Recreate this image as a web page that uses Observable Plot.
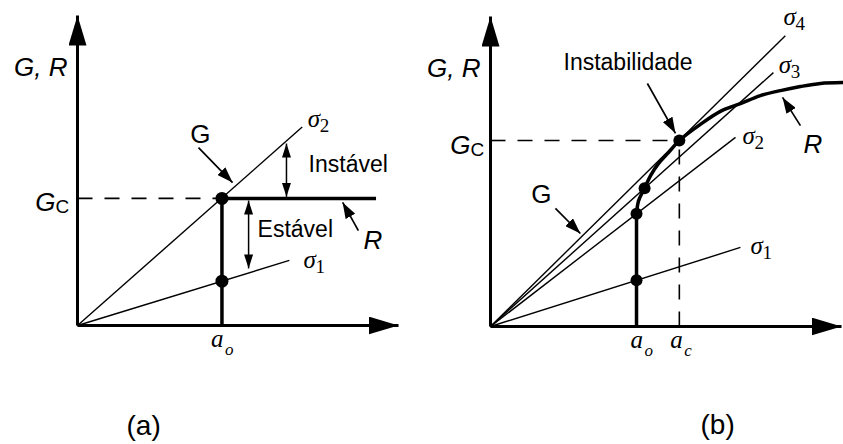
<!DOCTYPE html>
<html>
<head>
<meta charset="utf-8">
<script src="https://cdn.jsdelivr.net/npm/d3@7"></script>
<script src="https://cdn.jsdelivr.net/npm/@observablehq/plot@0.6"></script>
<style>
  html, body { margin: 0; padding: 0; background: #fff; }
  #wrap { display: flex; width: 843px; height: 444px; overflow: hidden; }
</style>
</head>
<body>
<div id="wrap"></div>
<script>
// ---------- shared ----------
const axisMax = 100;                       // both axes run 0..100 (schematic units)

// ---------- panel (a): flat resistance curve R ----------
const aSigmaNames = ["1", "2"];            // σ1 < σ2
const aSigmaEndX = [66, 70];
const aSigmaEndY = [21, 64];
const aCrack = 45;                         // a_o
const aGc = 41;                            // G_C = R
const aResistanceEndX = 93;
const aDotX = [45, 45];
const aDotY = [41, 14.3];
const aSigmaLabelX = [70.4, 71.7];
const aSigmaLabelY = [18.4, 63.9];
const aStateNames = ["Instável", "Estável"];
const aStateArrowX = [65.1, 53.3];
const aStateArrowY1 = [41.5, 40.3];
const aStateArrowY2 = [58.7, 18.4];
const aStateLabelX = [72.0, 56.1];
const aStateLabelY = [49.4, 28.4];
const aPointerNames = ["G", "R"];
const aPointerFromX = [37.7, 87.5];
const aPointerFromY = [57.4, 30.6];
const aPointerToX = [48.3, 82.6];
const aPointerToY = [46.1, 39.7];
const aPointerLabelX = [38.3, 89.1];
const aPointerLabelY = [59.0, 24.8];

// ---------- panel (b): rising resistance curve R ----------
const bSigmaNames = ["1", "2", "3", "4"];
const bSigmaEndX = [71.2, 69.8, 80.6, 84.0];
const bSigmaEndY = [25.5, 61.0, 81.9, 93.8];
const bCrack = 41.6;                       // a_o
const bCritical = 53.8;                    // a_c
const bGc = 60;                            // G_C at instability
const bDotX = [41.6, 41.6, 43.9, 53.8];
const bDotY = [14.9, 36.4, 44.6, 60];
const bResistanceX = [41.6, 42.2, 43.9, 45.6, 47.9, 50.7, 53.8, 59.8, 65.5, 71.2, 76.9, 82.6, 88.3, 94.0, 100.3];
const bResistanceY = [36.4, 40.6, 44.6, 48.7, 52.6, 56.1, 60.0, 65.2, 69.4, 71.9, 74.5, 76.1, 77.4, 78.4, 78.7];
const bSigmaLabelX = [74.1, 71.8, 82.1, 83.5];
const bSigmaLabelY = [23.5, 59.0, 81.9, 97.1];
const bPointerNames = ["Instabilidade", "G", "R"];
const bPointerFromX = [44.7, 18.5, 88.3];
const bPointerFromY = [78.4, 38.1, 64.8];
const bPointerToX = [52.7, 25.6, 83.2];
const bPointerToY = [62.3, 30.0, 73.9];
const bPointerLabelX = [20.8, 14.5, 89.2];
const bPointerLabelY = [82.6, 40.0, 56.1];

const panelTags = ["(a)", "(b)"];
const panelTagX = [20.6, 64.7];
const panelTagY = [-35.2, -34.8];

// ---------- drawing helpers ----------
const sans = "'Liberation Sans', Arial, sans-serif";
const serif = "'Liberation Serif', 'Times New Roman', serif";

// solid triangular arrowhead (auto-start-reverse so it also works at a line's start)
function solidHead(len, wid) {
  return (color) => {
    const m = d3.create("svg:marker")
      .attr("viewBox", `${-len} ${-wid / 2} ${len} ${wid}`)
      .attr("markerUnits", "userSpaceOnUse")
      .attr("markerWidth", len)
      .attr("markerHeight", wid)
      .attr("refX", 0)
      .attr("refY", 0)
      .attr("orient", "auto-start-reverse")
      .attr("fill", color)
      .attr("stroke", "none");
    m.append("path").attr("d", `M0,0L${-len},${-wid / 2}L${-len},${wid / 2}Z`);
    return m.node();
  };
}
const axisHead = solidHead(30, 18);
const pointerHead = solidHead(16, 11);
const spanHead = solidHead(14, 9);

const zip = (names, fields) => names.map((name, i) => {
  const o = {name};
  for (const [k, arr] of Object.entries(fields)) o[k] = arr[i];
  return o;
});

function axesMarks() {
  const axes = [
    {x1: 0, y1: 0, x2: 0, y2: axisMax},
    {x1: 0, y1: 0, x2: axisMax, y2: 0}
  ];
  return Plot.link(axes, {x1: "x1", y1: "y1", x2: "x2", y2: "y2", stroke: "#000", strokeWidth: 3, markerEnd: axisHead});
}

function axisTitleMarks() {
  return Plot.text(["G, R"], {
    x: 0, y: 80.5, text: d => d, dx: -10, textAnchor: "end", lineAnchor: "bottom",
    fontFamily: sans, fontStyle: "italic", fontSize: 26, fill: "#000"
  });
}

function gcMarks(gc, dx) {
  return [
    Plot.text(["G"], {x: 0, y: gc, text: d => d, dx, dy: 13, textAnchor: "end", lineAnchor: "bottom",
      fontFamily: sans, fontStyle: "italic", fontSize: 26, fill: "#000"}),
    Plot.text(["C"], {x: 0, y: gc, text: d => d, dx, dy: 15, textAnchor: "start", lineAnchor: "bottom",
      fontFamily: sans, fontSize: 19, fill: "#000"})
  ];
}

function sigmaMarks(labels) {
  return [
    Plot.text(labels, {x: "lx", y: "ly", text: () => "σ", textAnchor: "start", lineAnchor: "bottom",
      fontFamily: serif, fontStyle: "italic", fontSize: 25, fill: "#000"}),
    Plot.text(labels, {x: "lx", y: "ly", text: "name", dx: 12, dy: 5, textAnchor: "start", lineAnchor: "bottom",
      fontFamily: serif, fontSize: 19, fill: "#000"})
  ];
}

function crackLabel(xv, main, sub, dx, subDx) {
  return [
    Plot.text([main], {x: xv, y: 0, text: d => d, dx, dy: 21, textAnchor: "start", lineAnchor: "bottom",
      fontFamily: serif, fontStyle: "italic", fontSize: 25, fill: "#000"}),
    Plot.text([sub], {x: xv, y: 0, text: d => d, dx: subDx, dy: 29, textAnchor: "start", lineAnchor: "bottom",
      fontFamily: serif, fontStyle: "italic", fontSize: 17, fill: "#000"})
  ];
}

// pointer arrows plus their labels: "G" centred upright, "R" italic, long words upright
function pointerMarks(pointers) {
  const common = {x: "lx", y: "ly", text: "name", lineAnchor: "bottom", fontFamily: sans, fill: "#000"};
  return [
    Plot.link(pointers, {x1: "fx", y1: "fy", x2: "tx", y2: "ty", stroke: "#000", strokeWidth: 1.7, markerEnd: pointerHead}),
    Plot.text(pointers, {...common, filter: d => d.name === "G", textAnchor: "middle", fontSize: 26}),
    Plot.text(pointers, {...common, filter: d => d.name === "R", textAnchor: "start", fontStyle: "italic", fontSize: 26}),
    Plot.text(pointers, {...common, filter: d => d.name.length > 1, textAnchor: "start", fontSize: 23})
  ];
}

function tagMark(i) {
  return Plot.text([panelTags[i]], {x: panelTagX[i], y: panelTagY[i], text: d => d, textAnchor: "middle",
    lineAnchor: "bottom", fontFamily: sans, fontSize: 28, fill: "#000"});
}

// ---------- panel (a) ----------
const aSigma = zip(aSigmaNames, {ex: aSigmaEndX, ey: aSigmaEndY, lx: aSigmaLabelX, ly: aSigmaLabelY});
const aStates = zip(aStateNames, {x: aStateArrowX, y1: aStateArrowY1, y2: aStateArrowY2, lx: aStateLabelX, ly: aStateLabelY});
const aPointers = zip(aPointerNames, {fx: aPointerFromX, fy: aPointerFromY, tx: aPointerToX, ty: aPointerToY,
  lx: aPointerLabelX, ly: aPointerLabelY});
const aDots = aDotX.map((x, i) => ({x, y: aDotY[i]}));

const plotA = Plot.plot({
  width: 421, height: 444,
  marginLeft: 77, marginRight: 23, marginTop: 15, marginBottom: 119,
  x: {domain: [0, axisMax], axis: null},
  y: {domain: [0, axisMax], axis: null},
  style: {background: "white", overflow: "visible"},
  marks: [
    // G_C reference line
    Plot.link([aGc], {x1: 0, y1: d => d, x2: aCrack, y2: d => d, stroke: "#000", strokeWidth: 1.6, strokeDasharray: "15,12"}),
    // G = f(σ, a) lines
    Plot.link(aSigma, {x1: 0, y1: 0, x2: "ex", y2: "ey", stroke: "#000", strokeWidth: 1.4}),
    // resistance R: vertical at a_o, then flat at G_C
    Plot.link([aCrack], {x1: d => d, y1: 0, x2: d => d, y2: aGc, stroke: "#000", strokeWidth: 3.5}),
    Plot.link([aGc], {x1: aCrack, y1: d => d, x2: aResistanceEndX, y2: d => d, stroke: "#000", strokeWidth: 3.5}),
    axesMarks(),
    Plot.dot(aDots, {x: "x", y: "y", r: 6.5, fill: "#000"}),
    // stable / unstable spans
    Plot.link(aStates, {x1: "x", y1: "y1", x2: "x", y2: "y2", stroke: "#000", strokeWidth: 1.5, markerStart: spanHead, markerEnd: spanHead}),
    Plot.text(aStates, {x: "lx", y: "ly", text: "name", textAnchor: "start", lineAnchor: "bottom",
      fontFamily: sans, fontSize: 23, fill: "#000"}),
    ...pointerMarks(aPointers),
    ...sigmaMarks(aSigma),
    axisTitleMarks(),
    ...gcMarks(aGc, -22),
    ...crackLabel(aCrack, "a", "o", -11, 3),
    tagMark(0)
  ]
});

// ---------- panel (b) ----------
const bSigma = zip(bSigmaNames, {ex: bSigmaEndX, ey: bSigmaEndY, lx: bSigmaLabelX, ly: bSigmaLabelY});
const bPointers = zip(bPointerNames, {fx: bPointerFromX, fy: bPointerFromY, tx: bPointerToX, ty: bPointerToY,
  lx: bPointerLabelX, ly: bPointerLabelY});
const bDots = bDotX.map((x, i) => ({x, y: bDotY[i]}));
const bResistance = bResistanceX.map((x, i) => ({x, y: bResistanceY[i]}));

const plotB = Plot.plot({
  width: 422, height: 444,
  marginLeft: 69, marginRight: 2, marginTop: 16, marginBottom: 118,
  x: {domain: [0, axisMax], axis: null},
  y: {domain: [0, axisMax], axis: null},
  style: {background: "white", overflow: "visible"},
  marks: [
    // G_C and a_c reference lines
    Plot.link([bGc], {x1: 0, y1: d => d, x2: bCritical, y2: d => d, stroke: "#000", strokeWidth: 1.6, strokeDasharray: "15,12"}),
    Plot.link([bCritical], {x1: d => d, y1: 0, x2: d => d, y2: bGc, stroke: "#000", strokeWidth: 1.6, strokeDasharray: "15,12"}),
    Plot.link(bSigma, {x1: 0, y1: 0, x2: "ex", y2: "ey", stroke: "#000", strokeWidth: 1.4}),
    // resistance R: vertical at a_o, then the rising curve
    Plot.link([bCrack], {x1: d => d, y1: 0, x2: d => d, y2: bResistanceY[0], stroke: "#000", strokeWidth: 3.5}),
    Plot.line(bResistance, {x: "x", y: "y", curve: "catmull-rom", stroke: "#000", strokeWidth: 3.5}),
    axesMarks(),
    Plot.dot(bDots, {x: "x", y: "y", r: 6, fill: "#000"}),
    ...pointerMarks(bPointers),
    ...sigmaMarks(bSigma),
    axisTitleMarks(),
    ...gcMarks(bGc, -20),
    ...crackLabel(bCrack, "a", "o", -6, 8),
    ...crackLabel(bCritical, "a", "c", -9, 5),
    tagMark(1)
  ]
});

const wrap = document.getElementById("wrap");
wrap.append(plotA, plotB);
</script>
</body>
</html>
